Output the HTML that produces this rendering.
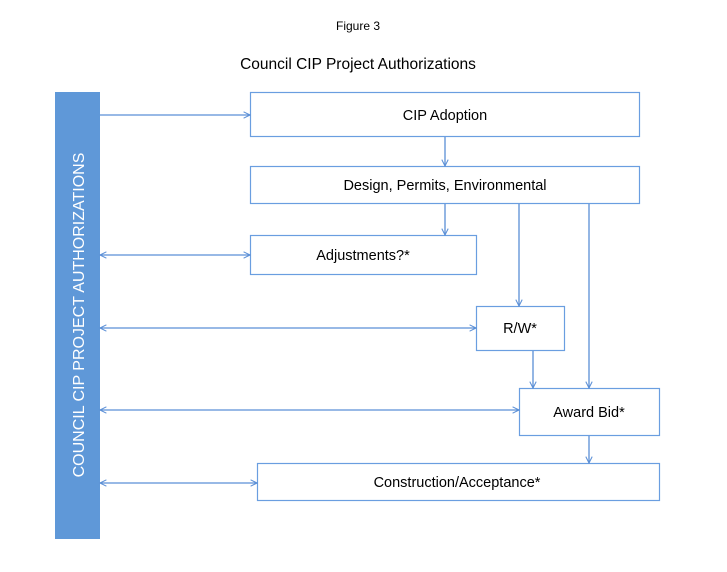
<!DOCTYPE html>
<html><head><style>
body{margin:0;background:#fff;}
svg text{font-family:"Liberation Sans",sans-serif;}
</style></head><body>
<svg width="727" height="567" xmlns="http://www.w3.org/2000/svg">
<defs>
<marker id="a" viewBox="0 0 10 10" refX="9" refY="5" markerWidth="8" markerHeight="8" orient="auto-start-reverse" markerUnits="userSpaceOnUse">
<path d="M1,1 L9,5 L1,9" fill="none" stroke="#5b8fd6" stroke-width="1.3"/>
</marker>
</defs>
<text x="358" y="30" font-size="12" text-anchor="middle">Figure 3</text>
<text x="358" y="69" font-size="15.5" text-anchor="middle">Council CIP Project Authorizations</text>
<rect x="55" y="92" width="45" height="447" fill="#5f98d8"/>
<text transform="translate(84,315) rotate(-90)" font-size="16" fill="#fff" text-anchor="middle">COUNCIL CIP PROJECT  AUTHORIZATIONS</text>
<g fill="#fff" stroke="#6a9ee0" stroke-width="1.2">
<rect x="250.5" y="92.5" width="389" height="44"/>
<rect x="250.5" y="166.5" width="389" height="37"/>
<rect x="250.5" y="235.5" width="226" height="39"/>
<rect x="476.5" y="306.5" width="88" height="44"/>
<rect x="519.5" y="388.5" width="140" height="47"/>
<rect x="257.5" y="463.5" width="402" height="37"/>
</g>
<g font-size="14.5" text-anchor="middle">
<text x="445" y="120">CIP Adoption</text>
<text x="445" y="190">Design, Permits, Environmental</text>
<text x="363" y="260">Adjustments?*</text>
<text x="520" y="333">R/W*</text>
<text x="589" y="417">Award Bid*</text>
<text x="457" y="487">Construction/Acceptance*</text>
</g>
<g stroke="#5b8fd6" stroke-width="1.3" fill="none">
<line x1="100" y1="115" x2="250" y2="115" marker-end="url(#a)"/>
<line x1="100" y1="255" x2="250" y2="255" marker-start="url(#a)" marker-end="url(#a)"/>
<line x1="100" y1="328" x2="476" y2="328" marker-start="url(#a)" marker-end="url(#a)"/>
<line x1="100" y1="410" x2="519" y2="410" marker-start="url(#a)" marker-end="url(#a)"/>
<line x1="100" y1="483" x2="257" y2="483" marker-start="url(#a)" marker-end="url(#a)"/>
<line x1="445" y1="137" x2="445" y2="166" marker-end="url(#a)"/>
<line x1="445" y1="204" x2="445" y2="235" marker-end="url(#a)"/>
<line x1="519" y1="204" x2="519" y2="306" marker-end="url(#a)"/>
<line x1="589" y1="204" x2="589" y2="388" marker-end="url(#a)"/>
<line x1="533" y1="351" x2="533" y2="388" marker-end="url(#a)"/>
<line x1="589" y1="436" x2="589" y2="463" marker-end="url(#a)"/>
</g>
</svg>
</body></html>
